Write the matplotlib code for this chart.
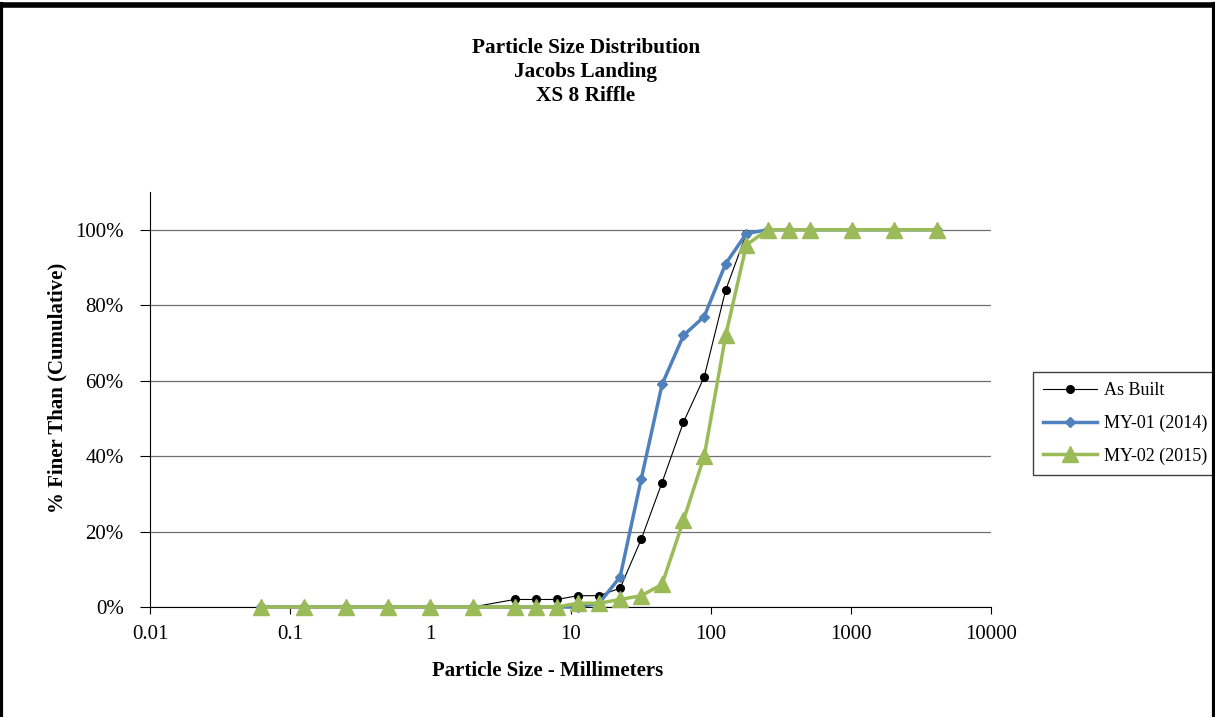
import matplotlib as mpl
import matplotlib.pyplot as plt
from matplotlib.lines import Line2D
import numpy as np

# sieve sizes (mm) and cumulative percent finer for each survey
sizes = [0.062, 0.125, 0.25, 0.5, 1, 2, 4, 5.7, 8, 11.3, 16, 22.6, 32, 45,
         64, 90, 128, 180, 256, 362, 512, 1024, 2048, 4096]
as_built = [0, 0, 0, 0, 0, 0, 2, 2, 2, 3, 3, 5, 18, 33,
            49, 61, 84, 99, 100, 100, 100, 100, 100, 100]
my01 = [0, 0, 0, 0, 0, 0, 0, 0, 0, 0, 1, 8, 34, 59,
        72, 77, 91, 99, 100, 100, 100, 100, 100, 100]
my02 = [0, 0, 0, 0, 0, 0, 0, 0, 0, 1, 1, 2, 3, 6,
        23, 40, 72, 96, 100, 100, 100, 100, 100, 100]
x_ticks = [0.01, 0.1, 1, 10, 100, 1000, 10000]

plt.rcParams['font.family'] = ['Liberation Serif', 'DejaVu Serif']

fig = plt.figure(figsize=(12.15, 7.17), dpi=100)
ax = fig.add_axes([0.1235, 0.1534, 0.6921, 0.5788])

blue = '#4F81BD'
green = '#9BBB59'

ax.plot(sizes, np.array(as_built) / 100, '-o', color='black', lw=0.8,
        ms=5.5, label='As Built', zorder=3, clip_on=False)
ax.plot(sizes, np.array(my01) / 100, '-D', color=blue, lw=2.5,
        ms=5.5, label='MY-01 (2014)', zorder=4, clip_on=False)
ax.plot(sizes, np.array(my02) / 100, '-^', color=green, lw=2.5,
        ms=11, label='MY-02 (2015)', zorder=5, clip_on=False)

ax.set_xscale('log')
ax.set_xlim(0.01, 10000)
ax.set_ylim(0, 1.1)
ax.set_yticks(np.arange(0, 1.01, 0.2))
ax.yaxis.set_major_formatter(mpl.ticker.PercentFormatter(1.0, decimals=0))
ax.xaxis.set_major_locator(mpl.ticker.FixedLocator(x_ticks))
ax.xaxis.set_minor_locator(mpl.ticker.NullLocator())
ax.xaxis.set_major_formatter(mpl.ticker.FuncFormatter(lambda v, p: f'{v:g}'))

ax.grid(axis='y', color='#707070', lw=0.9)
ax.set_axisbelow(True)
for s in ['top', 'right']:
    ax.spines[s].set_visible(False)
ax.spines['left'].set_color('black')
ax.spines['bottom'].set_color('black')
ax.tick_params(axis='x', direction='out', length=5, width=0.8, labelsize=15, pad=8)
ax.tick_params(axis='y', direction='out', length=7, width=0.8, labelsize=15, pad=12)

ax.set_xlabel('Particle Size - Millimeters', fontsize=15, fontweight='bold')
ax.xaxis.set_label_coords(0.473, -0.155)
ax.xaxis.label.set_va('center')
ax.set_ylabel('% Finer Than (Cumulative)', fontsize=15, fontweight='bold')
ax.yaxis.set_label_coords(-0.11, 0.528)
ax.yaxis.label.set_va('center')

fig.text(0.482, 0.947, 'Particle Size Distribution\nJacobs Landing\nXS 8 Riffle',
         ha='center', va='top', fontsize=15.3, fontweight='bold', linespacing=1.28)

ax.legend(loc='center left', bbox_to_anchor=(1.05, 0.442), fontsize=13,
          frameon=True, fancybox=False, edgecolor='#404040', framealpha=1,
          handlelength=3.0, borderpad=0.55, labelspacing=0.85, handletextpad=0.4,
          borderaxespad=0)

# outer frame: top, left and right edges
fig.add_artist(Line2D([0.001, 0.001], [0, 0.995], color='black', lw=3, transform=fig.transFigure))
fig.add_artist(Line2D([0.999, 0.999], [0, 0.995], color='black', lw=3, transform=fig.transFigure))
fig.add_artist(Line2D([0, 1], [0.993, 0.993], color='black', lw=4, transform=fig.transFigure))

fig.savefig('out.png', dpi=100)
